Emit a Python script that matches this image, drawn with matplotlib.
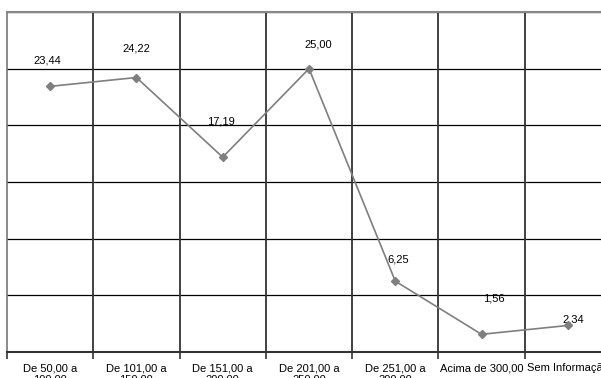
import matplotlib
matplotlib.use("Agg")
import matplotlib.pyplot as plt
import matplotlib.ticker as mticker
import numpy as np

plt.rcParams.update({
    "font.family": ["Liberation Sans", "DejaVu Sans"],
    "font.size": 8,
})

# ── Data ─────────────────────────────────────────────────────────────────────
categories = [
    "De 50,00 a\n100,00",
    "De 101,00 a\n150,00",
    "De 151,00 a\n200,00",
    "De 201,00 a\n250,00",
    "De 251,00 a\n300,00",
    "Acima de 300,00",
    "Sem Informação",
]
values = [23.44, 24.22, 17.19, 25.00, 6.25, 1.56, 2.34]
value_labels = ["23,44", "24,22", "17,19", "25,00", "6,25", "1,56", "2,34"]

# label offsets (points) roughly as placed in the original
label_offsets = [(-2, 15), (0, 17), (-1, 22), (7, 14), (2, 12), (9, 22), (4, 1)]

fig = plt.figure(figsize=(6.01, 3.78), dpi=100)
W, H = 601, 378
ax = fig.add_axes([7 / W, (H - 352) / H, (611 - 7) / W, (352 - 12) / H])

x = np.arange(len(categories))
ax.plot(x, values, color="#7f7f7f", lw=1.2, marker="D", ms=4,
        mfc="#7f7f7f", mec="#7f7f7f", zorder=5, clip_on=False)

for xi, v, lbl, off in zip(x, values, value_labels, label_offsets):
    ax.annotate(lbl, xy=(xi, v), xytext=off, textcoords="offset points",
                ha="center", va="bottom", fontsize=8, color="black")

ax.set_xlim(-0.5, len(categories) - 0.5)
ax.set_ylim(0, 30)

# gridlines
ax.yaxis.set_major_locator(mticker.MultipleLocator(5))
ax.grid(True, axis="y", color="black", lw=0.9)
for b in np.arange(0.5, len(categories) - 0.5, 1):
    ax.axvline(b, color="#333333", lw=1.3, zorder=1)
ax.set_axisbelow(True)

ax.set_yticklabels([])
ax.tick_params(axis="y", length=0)

ax.set_xticks(np.arange(-0.5, len(categories), 1))
ax.set_xticklabels([])
ax.tick_params(axis="x", which="major", direction="out", length=5, width=1.2,
               color="#333333")
ax.set_xticks(x, minor=True)
ax.set_xticklabels(categories, minor=True, fontsize=8)
ax.tick_params(axis="x", which="minor", length=0, pad=8)

for s in ["left", "right"]:
    ax.spines[s].set_color("#777777")
    ax.spines[s].set_linewidth(1.2)
ax.spines["top"].set_color("#888888")
ax.spines["top"].set_linewidth(1.5)
ax.spines["bottom"].set_color("#333333")
ax.spines["bottom"].set_linewidth(1.5)

fig.savefig("out.png", dpi=100)
